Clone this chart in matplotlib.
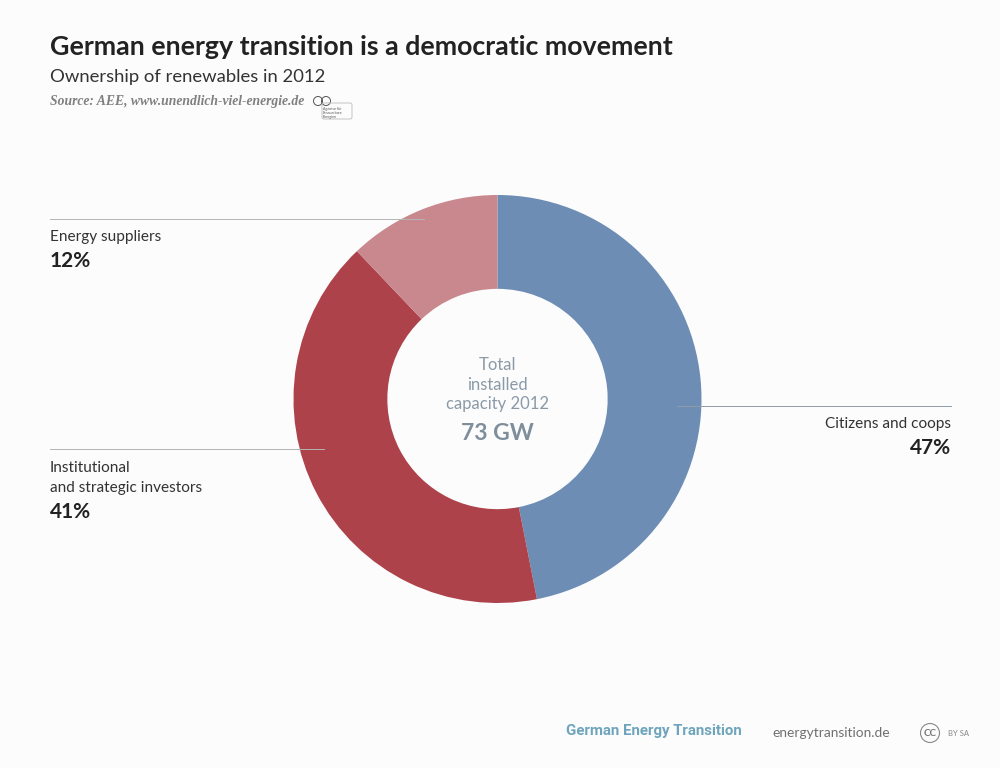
import matplotlib

matplotlib.use("Agg")
import matplotlib.pyplot as plt
from matplotlib.patches import Circle, FancyBboxPatch

PAPER = "#FCFCFC"
INK = "#222222"
CENTER = "#8A9AA8"
RULE = "#B4B4B4"

categories = ["Citizens and coops", "Institutional\nand strategic investors", "Energy suppliers"]
shares = [46.9, 41.0, 12.1]
share_labels = ["47%", "41%", "12%"]
colors = ["#6D8DB5", "#AD424B", "#C8888D"]
total_label = "73 GW"

plt.rcParams["font.family"] = ["Lato", "DejaVu Sans"]

fig = plt.figure(figsize=(10, 7.68), dpi=100, facecolor=PAPER)

# donut, box is centred on (497.5, 399), outer radius 204
pie_ax = fig.add_axes([293.5 / 1000, (768 - 603) / 768, 408 / 1000, 408 / 768])
pie_ax.pie(shares, colors=colors, startangle=90, counterclock=False, radius=1.0,
           wedgeprops={"width": 0.46, "linewidth": 0})
pie_ax.set_xlim(-1, 1)
pie_ax.set_ylim(-1, 1)
pie_ax.patch.set_alpha(0)

# overlay in pixel coordinates for the labels
over = fig.add_axes([0, 0, 1, 1])
over.set_xlim(0, 1000)
over.set_ylim(768, 0)
over.axis("off")

over.text(50, 47, "German energy transition is a democratic movement", fontsize=19.25, fontweight="bold",
          color=INK, va="center")
over.text(50, 77, "Ownership of renewables in 2012", fontsize=13.3, color="#333333", va="center")
over.text(50, 102, "Source: AEE, www.unendlich-viel-energie.de", fontsize=9.8, color="#808080", style="italic",
          fontweight="bold", family=["Liberation Serif", "DejaVu Serif"], va="center")

# AEE logo
over.add_patch(Circle((318, 101), 4.5, fill=False, ec="#555555", lw=0.7))
over.add_patch(Circle((326, 101), 4.5, fill=False, ec="#555555", lw=0.7))
over.add_patch(FancyBboxPatch((322, 103), 30, 16, boxstyle="round,pad=0,rounding_size=2", fill=False,
                              ec="#BBBBBB", lw=0.6))
over.text(323, 113, "Agentur für\nErneuerbare\nEnergien", fontsize=2.6, color="#555555", va="center",
          linespacing=1.1)

# leader lines
over.plot([50, 424], [219, 219], color=RULE, lw=0.7)
over.plot([50, 324], [449, 449], color=RULE, lw=0.7)
over.plot([677, 951], [406, 406], color="#8F9CA8", lw=0.7)

over.text(50, 237, categories[2], fontsize=11.1, color="#333333", va="center")
over.text(50, 261, share_labels[2], fontsize=15, fontweight="bold", color=INK, va="center")

over.text(50, 478, categories[1], fontsize=11.1, color="#333333", va="center", linespacing=1.6)
over.text(50, 512, share_labels[1], fontsize=15, fontweight="bold", color=INK, va="center")

over.text(951, 424, categories[0], fontsize=11.1, color="#333333", va="center", ha="right")
over.text(951, 448, share_labels[0], fontsize=15, fontweight="bold", color=INK, va="center", ha="right")

# centre text
over.text(497.5, 365, "Total", fontsize=12, color=CENTER, ha="center", va="center")
over.text(497.5, 385, "installed", fontsize=12, color=CENTER, ha="center", va="center")
over.text(497.5, 404, "capacity 2012", fontsize=12, color=CENTER, ha="center", va="center")
over.text(497.5, 433, total_label, fontsize=16.5, fontweight="bold", color="#7F8E9B", ha="center", va="center")

# footer
over.text(566, 731, "German Energy Transition", fontsize=10.8, color="#6FA5BC", fontweight="bold", va="center",
          family=["Roboto", "DejaVu Sans"])
over.text(772, 733, "energytransition.de", fontsize=9.9, color="#707070", va="center")
over.add_patch(Circle((930, 733), 9.5, fill=False, ec="#888888", lw=0.8))
over.text(930, 733, "CC", fontsize=7, fontweight="bold", color="#777777", ha="center", va="center")
over.text(948, 733, "BY SA", fontsize=5.5, color="#888888", va="center")

fig.savefig("out.png", dpi=100, facecolor=fig.get_facecolor())
plt.close(fig)
